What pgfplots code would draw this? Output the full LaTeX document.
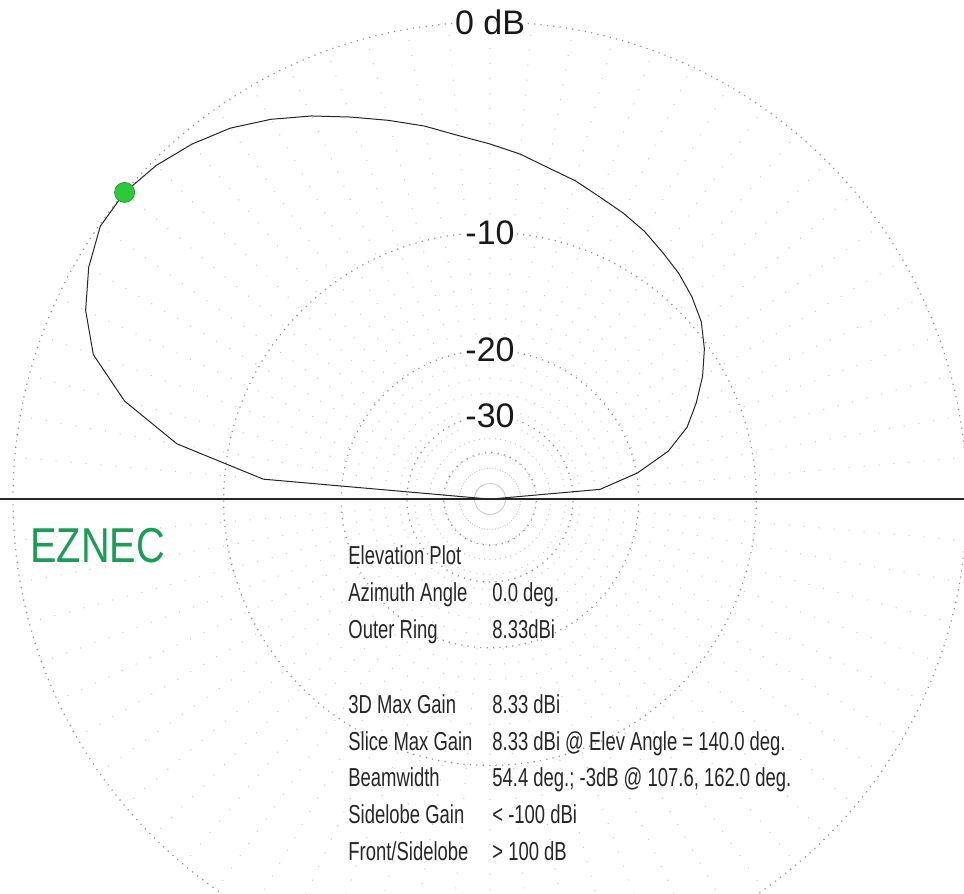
\documentclass[border=0pt]{standalone}
\usepackage{pgfplots}
\pgfplotsset{compat=1.18}
\usepackage{pgfplotstable}
\usepgfplotslibrary{polar}
\usepackage{fontspec}
\setmainfont{Liberation Sans}
\newfontfamily\narrowfont[FakeStretch=0.71]{Liberation Sans}
\newfontfamily\logofont[FakeStretch=0.81]{Liberation Sans}
\definecolor{eznecgreen}{RGB}{25,158,85}
\definecolor{dotgreen}{RGB}{45,200,60}

% elevation angle (deg) and gain relative to 8.33 dBi (dB)
\pgfplotstableread{
ang db
0 -100
5 -25.1
10 -19.9
15 -16.3
20 -14.1
25 -12.7
30 -11.4
35 -10.3
40 -9.4
45 -8.8
50 -8.3
55 -7.9
60 -7.45
65 -7.1
70 -6.78
75 -6.35
80 -6.0
85 -5.5
90 -5.07
95 -4.6
100 -3.96
105 -3.37
110 -2.75
115 -2.08
120 -1.45
125 -0.9
130 -0.5
135 -0.19
140 0
145 -0.05
150 -0.5
155 -1.15
160 -2.1
165 -3.98
170 -6.96
175 -12.7
180 -100
}\patterntable

\begin{document}
\begin{tikzpicture}[x=0.5pt,y=0.5pt]
\useasboundingbox (0,0) rectangle (964,894);
\clip (0,0) rectangle (964,894);
\begin{polaraxis}[
  at={(245pt,197.5pt)}, anchor=center,
  width=477pt, height=477pt, scale only axis,
  ymin=0, ymax=1,
  xtick={0,5,...,355},
  ytick={0.0972,0.1741,0.3118,0.5584,1},
  xticklabels={}, yticklabels={},
  tick label style={opacity=0, text opacity=0},
  major tick length=0pt,
  axis line style={draw=none},
  grid=major,
  major x grid style={gray!40, line width=0.5pt, dash pattern=on 0.5pt off 7pt},
  major y grid style={gray!85, line width=0.6pt, dash pattern=on 0.6pt off 2.6pt},
  clip=false,
]
\addplot[black!85, line width=0.5pt] table[x=ang, y expr={0.89^(-\thisrow{db}/2)}] {\patterntable};
\addplot[only marks, mark=*, mark size=5pt, mark options={fill=dotgreen, draw=dotgreen!80!black, line width=0.4pt}] coordinates {(140,1)};
\node[fill=white, inner sep=1pt, font=\fontsize{17pt}{19pt}\selectfont, text=black!90] at (axis cs:90,1) {0 dB};
\node[fill=white, inner sep=1pt, font=\fontsize{17pt}{19pt}\selectfont, text=black!90] at (axis cs:90,0.5584) {-10};
\node[fill=white, inner sep=1pt, font=\fontsize{17pt}{19pt}\selectfont, text=black!90] at (axis cs:90,0.3118) {-20};
\node[fill=white, inner sep=1pt, font=\fontsize{17pt}{19pt}\selectfont, text=black!90] at (axis cs:90,0.1741) {-30};
\end{polaraxis}
\draw[line width=1pt, black!85] (0,395) -- (964,395);
\node[anchor=base west, inner sep=0pt, font=\logofont\fontsize{24.5pt}{26pt}\selectfont, text=eznecgreen] at (30,331) {EZNEC};
\begin{scope}[every node/.style={anchor=base west, inner sep=0pt, font=\narrowfont\fontsize{13pt}{15pt}\selectfont, text=black!85}]
\node at (348,329) {Elevation Plot};
\node at (348,292) {Azimuth Angle};
\node at (492,292) {0.0 deg.};
\node at (348,255) {Outer Ring};
\node at (492,255) {8.33dBi};
\node at (348,180) {3D Max Gain};
\node at (492,180) {8.33 dBi};
\node at (348,143) {Slice Max Gain};
\node at (492,143) {8.33 dBi @ Elev Angle = 140.0 deg.};
\node at (348,107) {Beamwidth};
\node at (492,107) {54.4 deg.; -3dB @ 107.6, 162.0 deg.};
\node at (348,70) {Sidelobe Gain};
\node at (492,70) {< -100 dBi};
\node at (348,33) {Front/Sidelobe};
\node at (492,33) {> 100 dB};
\end{scope}
\end{tikzpicture}
\end{document}
